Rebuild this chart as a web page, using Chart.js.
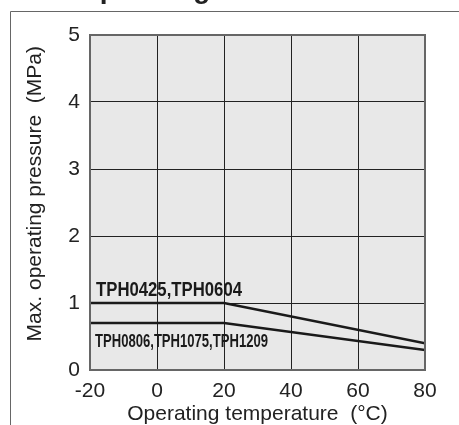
<!DOCTYPE html>
<html lang="en">
<head>
    <meta charset="UTF-8">
    <title>Operating Pressure</title>
    <style>
        body {
            margin: 0;
            padding: 0;
            background: #fff;
        }
        #chart {
            display: block;
        }
    </style>
</head>
<body>
    <canvas id="chart" width="459" height="425"></canvas>

    <script src="https://cdn.jsdelivr.net/npm/chart.js"></script>
    <script>
        // Data
        const temps = [-20, 20, 80];
        const upperPressure = [1.0, 1.0, 0.4];   // TPH0425, TPH0604
        const lowerPressure = [0.7, 0.7, 0.3];   // TPH0806, TPH1075, TPH1209
        const upperLabel = 'TPH0425,TPH0604';
        const lowerLabel = 'TPH0806,TPH1075,TPH1209';
        const xTicks = [-20, 0, 20, 40, 60, 80];
        const yTicks = [0, 1, 2, 3, 4, 5];

        const toPoints = (xs, ys) => xs.map((x, i) => ({ x: x, y: ys[i] }));

        // Grey plot background, outer frame and the cut-off heading
        const backdrop = {
            id: 'backdrop',
            beforeDraw(chart) {
                const { ctx, chartArea: a } = chart;
                ctx.save();
                ctx.fillStyle = '#e8e8e8';
                ctx.fillRect(a.left, a.top, a.right - a.left, a.bottom - a.top);

                ctx.strokeStyle = '#666';
                ctx.lineWidth = 1;
                ctx.beginPath();
                ctx.moveTo(10.5, 430);
                ctx.lineTo(10.5, 11.5);
                ctx.lineTo(470, 11.5);
                ctx.stroke();

                ctx.fillStyle = '#222';
                ctx.font = 'bold 28px "Liberation Sans", Arial, sans-serif';
                ctx.textBaseline = 'alphabetic';
                ctx.fillText('Operating Pressure', 78, -2.5);
                ctx.restore();
            }
        };

        // Plot border and the series names
        const labels = {
            id: 'labels',
            afterDatasetsDraw(chart) {
                const { ctx, chartArea: a, scales } = chart;
                ctx.save();
                ctx.strokeStyle = '#666';
                ctx.lineWidth = 2;
                ctx.strokeRect(a.left, a.top, a.right - a.left, a.bottom - a.top);

                ctx.fillStyle = '#1a1a1a';
                ctx.textBaseline = 'alphabetic';
                const x0 = scales.x.getPixelForValue(temps[0]);

                ctx.font = 'bold 20px "Liberation Sans Narrow", "Liberation Sans", Arial, sans-serif';
                let w = ctx.measureText(upperLabel).width;
                ctx.save();
                ctx.translate(x0 + 6, scales.y.getPixelForValue(upperPressure[0]) - 7);
                ctx.scale(146 / w, 1);
                ctx.fillText(upperLabel, 0, 0);
                ctx.restore();

                ctx.font = 'bold 18px "Liberation Sans Narrow", "Liberation Sans", Arial, sans-serif';
                w = ctx.measureText(lowerLabel).width;
                ctx.save();
                ctx.translate(x0 + 5, scales.y.getPixelForValue(lowerPressure[0]) + 24);
                ctx.scale(173 / w, 1);
                ctx.fillText(lowerLabel, 0, 0);
                ctx.restore();

                ctx.restore();
            }
        };

        const fontFamily = '"Liberation Sans", Arial, sans-serif';

        new Chart(document.getElementById('chart'), {
            type: 'scatter',
            data: {
                datasets: [
                    {
                        label: upperLabel,
                        data: toPoints(temps, upperPressure),
                        showLine: true,
                        borderColor: '#1a1a1a',
                        borderWidth: 2.5,
                        pointRadius: 0,
                        tension: 0
                    },
                    {
                        label: lowerLabel,
                        data: toPoints(temps, lowerPressure),
                        showLine: true,
                        borderColor: '#1a1a1a',
                        borderWidth: 2.5,
                        pointRadius: 0,
                        tension: 0
                    }
                ]
            },
            options: {
                responsive: false,
                animation: false,
                layout: {
                    padding: { left: 0, top: 35, right: 34, bottom: 0 }
                },
                plugins: {
                    legend: { display: false },
                    tooltip: { enabled: false }
                },
                scales: {
                    x: {
                        type: 'linear',
                        min: -20,
                        max: 80,
                        afterBuildTicks: (axis) => {
                            axis.ticks = xTicks.map(v => ({ value: v }));
                        },
                        afterFit: (axis) => { axis.height = 55; },
                        grid: { color: '#222', lineWidth: 1, drawTicks: false },
                        border: { display: false },
                        ticks: {
                            color: '#222',
                            padding: 9,
                            maxRotation: 0,
                            font: { family: fontFamily, size: 21 }
                        },
                        title: {
                            display: true,
                            text: 'Operating temperature  (°C)',
                            color: '#222',
                            padding: { top: 0, bottom: -2 },
                            font: { family: fontFamily, size: 21 }
                        }
                    },
                    y: {
                        type: 'linear',
                        min: 0,
                        max: 5,
                        afterBuildTicks: (axis) => {
                            axis.ticks = yTicks.map(v => ({ value: v }));
                        },
                        afterFit: (axis) => { axis.width = 90; },
                        grid: { color: '#222', lineWidth: 1, drawTicks: false },
                        border: { display: false },
                        ticks: {
                            color: '#222',
                            padding: 10,
                            font: { family: fontFamily, size: 21 }
                        },
                        title: {
                            display: true,
                            // leading spaces nudge the centred title upwards
                            text: '   Max. operating pressure  (MPa)',
                            color: '#222',
                            padding: { top: 23, bottom: 0 },
                            font: { family: fontFamily, size: 21 }
                        }
                    }
                }
            },
            plugins: [backdrop, labels]
        });
    </script>
</body>
</html>
